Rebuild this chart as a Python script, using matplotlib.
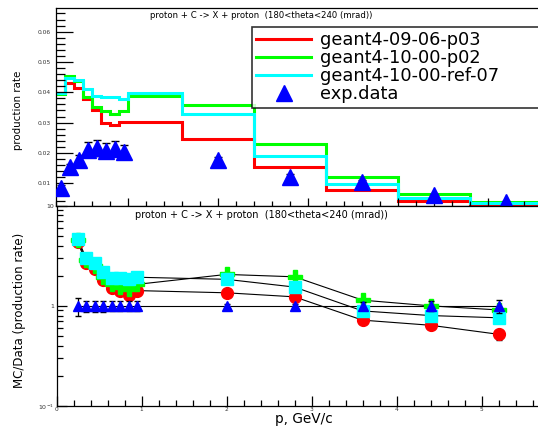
import numpy as np
import matplotlib
matplotlib.use('Agg')
from matplotlib import pyplot as plt
from matplotlib.ticker import MultipleLocator, FormatStrFormatter, FixedLocator, FixedFormatter, NullFormatter
from matplotlib.lines import Line2D

# histogram bins (GeV/c) and production rates
bin_edges = [0.2, 0.3, 0.4, 0.5, 0.6, 0.7, 0.8, 0.9, 1.0, 1.6, 2.4, 3.2, 4.0, 4.8, 5.6]
rate_0906 = [0.0398, 0.0430, 0.0413, 0.0378, 0.0342, 0.0300, 0.0292, 0.0302, 0.0302, 0.0247, 0.0152, 0.0079, 0.0043, 0.0025]
rate_1000 = [0.0395, 0.0454, 0.0436, 0.0386, 0.0350, 0.0339, 0.0328, 0.0337, 0.0389, 0.0359, 0.0228, 0.0121, 0.0063, 0.0039]
rate_ref07 = [0.0398, 0.0446, 0.0440, 0.0410, 0.0389, 0.0386, 0.0383, 0.0378, 0.0399, 0.0328, 0.0190, 0.0096, 0.0052, 0.0036]

# experimental points
exp_p = [0.25, 0.35, 0.45, 0.55, 0.65, 0.75, 0.85, 0.95, 2.0, 2.8, 3.6, 4.4, 5.2]
exp_rate = [0.0085, 0.0153, 0.0177, 0.0210, 0.0217, 0.0208, 0.0214, 0.0203, 0.0178, 0.0121, 0.0104, 0.0061, 0.0039]
exp_err = [0.0010, 0.0012, 0.0015, 0.0025, 0.0026, 0.0025, 0.0025, 0.0024, 0.0010, 0.0008, 0.0006, 0.0005, 0.0004]

# MC/Data ratios
ratio_0906 = [4.35, 2.65, 2.35, 1.80, 1.52, 1.40, 1.28, 1.42, 1.35, 1.23, 0.72, 0.64, 0.52]
ratio_1000 = [4.50, 2.85, 2.50, 1.95, 1.66, 1.56, 1.48, 1.64, 2.06, 1.95, 1.14, 1.00, 0.91]
ratio_ref07 = [4.65, 2.98, 2.65, 2.20, 1.88, 1.88, 1.87, 1.93, 1.84, 1.54, 0.89, 0.80, 0.76]
ratio_0906_err = [0.25, 0.15, 0.12, 0.09, 0.08, 0.08, 0.10, 0.08, 0.06, 0.07, 0.05, 0.05, 0.06]
ratio_data = [1.0] * 13
ratio_data_err = [0.20, 0.13, 0.13, 0.13, 0.12, 0.12, 0.12, 0.12, 0.05, 0.05, 0.10, 0.12, 0.15]

labels = ['geant4-09-06-p03', 'geant4-10-00-p02', 'geant4-10-00-ref-07', 'exp.data']
title = 'proton + C -> X + proton  (180<theta<240 (mrad))'

W, H = 538, 426
fig = plt.figure(figsize=(W / 100, H / 100), dpi=100)

# ---- top pad ----
ax1 = fig.add_axes([56 / W, (H - 205.7) / H, 486 / W, 197.7 / H])
ax1.stairs(rate_0906, bin_edges, baseline=None, color='#ff0000', lw=2.2)
ax1.stairs(rate_1000, bin_edges, baseline=None, color='#00ff00', lw=2.2)
ax1.stairs(rate_ref07, bin_edges, baseline=None, color='#00ffff', lw=2.2)
ax1.errorbar(exp_p, exp_rate, yerr=exp_err, fmt='none', ecolor='black', elinewidth=1, capsize=3, zorder=3)
ax1.plot(exp_p, exp_rate, ls='none', marker='^', ms=12, color='#0000ff', zorder=4)
ax1.set_xlim(0.2, 5.6)
ax1.set_ylim(0.0026, 0.0678)
ax1.yaxis.set_major_locator(MultipleLocator(0.01))
ax1.yaxis.set_minor_locator(MultipleLocator(0.002))
ax1.yaxis.set_major_formatter(FormatStrFormatter('%.2f'))
ax1.xaxis.set_major_locator(MultipleLocator(1))
ax1.xaxis.set_minor_locator(MultipleLocator(0.2))
ax1.xaxis.set_major_formatter(NullFormatter())
ax1.tick_params(axis='y', which='major', direction='in', length=12, width=0.9, labelsize=4.3, labelcolor='#333333', pad=4)
ax1.tick_params(axis='y', which='minor', direction='in', length=6.5, width=0.9)
ax1.tick_params(axis='x', which='major', direction='in', length=6, width=0.9)
ax1.tick_params(axis='x', which='minor', direction='in', length=3.5, width=0.9)
for s in ax1.spines.values():
    s.set_linewidth(0.9)
fig.text(150 / W, 1 - 16 / H, title, fontsize=6.1, va='center', ha='left')

handles = [Line2D([], [], color='#ff0000', lw=2.2),
           Line2D([], [], color='#00ff00', lw=2.2),
           Line2D([], [], color='#00ffff', lw=2.2),
           Line2D([], [], ls='none', marker='^', ms=12, color='#0000ff')]
leg = ax1.legend(handles, labels, loc='upper left', mode='expand',
                 bbox_to_anchor=(252 / W, 1 - 107 / H, 300 / W, 80 / H),
                 bbox_transform=fig.transFigure, fontsize=12.8, frameon=True,
                 fancybox=False, borderaxespad=0, borderpad=0.25, handlelength=3.05,
                 handletextpad=0.55, labelspacing=0.0)
leg.get_frame().set_edgecolor('black')
leg.get_frame().set_linewidth(1.2)

fig.text(18 / W, 1 - 110 / H, 'production rate', rotation=90, fontsize=7.4, ha='center', va='center')

# ---- bottom pad ----
ax2 = fig.add_axes([56.5 / W, (H - 406) / H, 484.5 / W, 200.3 / H])
ax2.set_yscale('log')
ax2.plot(exp_p, ratio_0906, color='black', lw=0.8, zorder=1)
ax2.plot(exp_p, ratio_1000, color='black', lw=0.8, zorder=1)
ax2.plot(exp_p, ratio_ref07, color='black', lw=0.8, zorder=1)
ax2.plot(exp_p, ratio_data, color='black', lw=0.8, zorder=1)
ax2.errorbar(exp_p, ratio_0906, yerr=ratio_0906_err, fmt='o', ms=8.5, color='#ff0000',
             ecolor='black', elinewidth=0.9, capsize=2.5, zorder=2)
ax2.plot(exp_p, ratio_1000, ls='none', marker='P', ms=9.5, color='#00ff00', zorder=3)
ax2.plot(exp_p, ratio_ref07, ls='none', marker='s', ms=8.5, color='#00ffff', zorder=4)
ax2.errorbar(exp_p, ratio_data, yerr=ratio_data_err, fmt='^', ms=7, color='#0000ff',
             ecolor='black', elinewidth=0.9, capsize=2.5, zorder=5)
ax2.set_xlim(0, 5.7)
ax2.set_ylim(0.1, 10)
ax2.yaxis.set_major_locator(FixedLocator([0.1, 1, 10]))
ax2.yaxis.set_major_formatter(FixedFormatter(['10$^{-1}$', '1', '10']))
ax2.yaxis.set_minor_locator(FixedLocator([v * d for d in (0.1, 1) for v in range(2, 10)]))
ax2.yaxis.set_minor_formatter(NullFormatter())
ax2.xaxis.set_major_locator(MultipleLocator(1))
ax2.xaxis.set_minor_locator(MultipleLocator(0.2))
ax2.tick_params(axis='both', which='major', direction='in', length=7, width=0.9,
                labelsize=4.5, labelcolor='#333333', pad=2)
ax2.tick_params(axis='x', which='major', labelsize=4.2, pad=0.5)
ax2.tick_params(axis='both', which='minor', direction='in', length=4, width=0.9)
for s in ax2.spines.values():
    s.set_linewidth(0.9)
fig.text(261 / W, 1 - 215 / H, title, fontsize=7, va='center', ha='center')

fig.text(20 / W, 1 - 310 / H, 'MC/Data (production rate)', rotation=90, fontsize=8.5, ha='center', va='center')
fig.text(304 / W, 0.0, 'p, GeV/c', fontsize=9.8, ha='center', va='bottom')

fig.savefig('out.png', dpi=100)
